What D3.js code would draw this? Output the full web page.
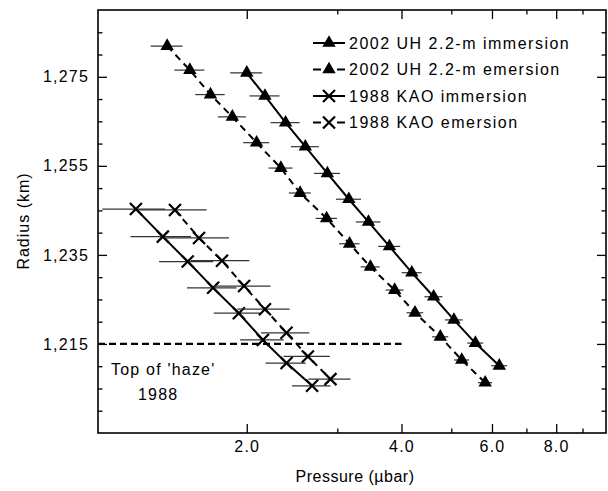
<!DOCTYPE html>
<html>
<head>
<meta charset="utf-8">
<script src="https://cdn.jsdelivr.net/npm/d3@7"></script>
<style>
  body { margin: 0; background: #fff; }
  text { font-family: "Liberation Sans", Arial, Helvetica, sans-serif; }
</style>
</head>
<body>
<svg id="chart"></svg>
<script>
// 2002 UH 2.2-m immersion
const uhImmP = [2.00, 2.17, 2.38, 2.60, 2.87, 3.16, 3.45, 3.79, 4.19, 4.62, 5.06, 5.57, 6.20];
const uhImmR = [1275.9, 1270.7, 1264.7, 1259.3, 1253.3, 1247.5, 1242.4, 1236.9, 1231.0, 1225.6, 1220.4, 1215.2, 1210.1];
const uhImmErr = [0.143, 0.146, 0.155, 0.163, 0.167, 0.177, 0.19, 0.187, 0.188, 0.186, 0.204, 0.20, 0.222];

// 2002 UH 2.2-m emersion
const uhEmeP = [1.40, 1.55, 1.70, 1.875, 2.09, 2.33, 2.54, 2.86, 3.17, 3.48, 3.88, 4.25, 4.76, 5.24, 5.82];
const uhEmeR = [1281.9, 1276.5, 1271.0, 1266.0, 1260.2, 1254.5, 1248.9, 1243.2, 1237.5, 1232.3, 1227.1, 1222.0, 1216.6, 1211.4, 1206.3];
const uhEmeErr = [0.100, 0.104, 0.112, 0.118, 0.122, 0.125, 0.125, 0.137, 0.145, 0.148, 0.156, 0.158, 0.171, 0.176, 0.183];

// 1988 KAO immersion
const kaoImmP = [1.217, 1.373, 1.535, 1.72, 1.93, 2.15, 2.39, 2.68];
const kaoImmR = [1245.3, 1239.1, 1233.5, 1227.6, 1221.9, 1215.9, 1210.7, 1205.6];
const kaoImmErr = [0.17, 0.185, 0.185, 0.19, 0.205, 0.21, 0.215, 0.23];

// 1988 KAO emersion
const kaoEmeP = [1.45, 1.615, 1.79, 1.976, 2.17, 2.39, 2.63, 2.91];
const kaoEmeR = [1245.1, 1238.8, 1233.7, 1228.0, 1222.8, 1217.5, 1212.2, 1207.1];
const kaoEmeErr = [0.221, 0.232, 0.233, 0.248, 0.253, 0.257, 0.271, 0.274];

const xMajor = [2, 4, 6, 8];
const xMinor = [3, 5, 7, 9];
const yMajor = [1215, 1235, 1255, 1275];
const yMinor = [1200, 1205, 1210, 1220, 1225, 1230, 1240, 1245, 1250, 1260, 1265, 1270, 1280, 1285];

const hazeRadius = 1215, hazeEnd = 4.0;

const legendLabels = ["2002 UH 2.2-m immersion", "2002 UH 2.2-m emersion", "1988 KAO immersion", "1988 KAO emersion"];

const width = 608, height = 491;
const svg = d3.select("#chart").attr("width", width).attr("height", height);

const x = d3.scaleLog().domain([1.027, 10]).range([98, 606]);
const y = d3.scaleLinear().domain([1195, 1290]).range([433, 10]);

const pack = (P, R, E) => P.map((p, i) => ({ p, r: R[i], e: E[i] }));
const series = [
  { name: legendLabels[0], data: pack(uhImmP, uhImmR, uhImmErr), dash: null, mark: "tri" },
  { name: legendLabels[1], data: pack(uhEmeP, uhEmeR, uhEmeErr), dash: "7,5", mark: "tri" },
  { name: legendLabels[2], data: pack(kaoImmP, kaoImmR, kaoImmErr), dash: null, mark: "x" },
  { name: legendLabels[3], data: pack(kaoEmeP, kaoEmeR, kaoEmeErr), dash: "7,5", mark: "x" }
];

// axes (ticks inward on all four sides)
const fmtX = d3.format(".1f"), fmtY = d3.format(",");
function styleAxis(g) {
  g.select(".domain").remove();
  g.selectAll("line").attr("stroke", "#000").attr("stroke-width", 1.3);
  g.selectAll("text").attr("fill", "#000").style("font-size", "16px").style("letter-spacing", "1.2px");
}
svg.append("g").attr("transform", "translate(0,433)")
  .call(d3.axisBottom(x).tickValues(xMajor).tickFormat(fmtX).tickSize(-9).tickPadding(8)).call(styleAxis);
svg.append("g").attr("transform", "translate(0,433)")
  .call(d3.axisBottom(x).tickValues(xMinor).tickFormat("").tickSize(-4.5)).call(styleAxis);
svg.append("g").attr("transform", "translate(0,10)")
  .call(d3.axisTop(x).tickValues(xMajor).tickFormat("").tickSize(-9)).call(styleAxis);
svg.append("g").attr("transform", "translate(0,10)")
  .call(d3.axisTop(x).tickValues(xMinor).tickFormat("").tickSize(-4.5)).call(styleAxis);
svg.append("g").attr("transform", "translate(98,0)")
  .call(d3.axisLeft(y).tickValues(yMajor).tickFormat(fmtY).tickSize(-9).tickPadding(9)).call(styleAxis);
svg.append("g").attr("transform", "translate(98,0)")
  .call(d3.axisLeft(y).tickValues(yMinor).tickFormat("").tickSize(-4.5)).call(styleAxis);
svg.append("g").attr("transform", "translate(606,0)")
  .call(d3.axisRight(y).tickValues(yMajor).tickFormat("").tickSize(-9)).call(styleAxis);
svg.append("g").attr("transform", "translate(606,0)")
  .call(d3.axisRight(y).tickValues(yMinor).tickFormat("").tickSize(-4.5)).call(styleAxis);

// frame
svg.append("rect").attr("x", 98).attr("y", 10).attr("width", 508).attr("height", 423)
  .attr("fill", "none").attr("stroke", "#000").attr("stroke-width", 1.6);

// axis titles
svg.append("text").attr("x", 355).attr("y", 482).attr("text-anchor", "middle")
  .style("font-size", "16px").style("letter-spacing", "0.5px").text("Pressure (\u00b5bar)");
svg.append("text").attr("transform", "translate(29,221) rotate(-90)").attr("text-anchor", "middle")
  .style("font-size", "16px").style("letter-spacing", "1px").text("Radius (km)");

// haze line
svg.append("line").attr("x1", x.range()[0]).attr("x2", x(hazeEnd))
  .attr("y1", y(hazeRadius)).attr("y2", y(hazeRadius))
  .attr("stroke", "#000").attr("stroke-width", 2.3).attr("stroke-dasharray", "7,4");
svg.append("text").attr("x", 111).attr("y", 375).style("font-size", "16px").style("letter-spacing", "1.2px").text("Top of 'haze'");
svg.append("text").attr("x", 138).attr("y", 400).style("font-size", "16px").style("letter-spacing", "1.2px").text("1988");

const tri = d3.symbol().type(d3.symbolTriangle).size(78);
function drawMark(g, kind) {
  if (kind === "tri") {
    g.append("path").attr("d", tri()).attr("fill", "#000");
  } else {
    g.append("path").attr("d", "M-6,-6L6,6M-6,6L6,-6")
      .attr("stroke", "#000").attr("stroke-width", 2.2).attr("fill", "none");
  }
}

const line = d3.line().x(d => x(d.p)).y(d => y(d.r));

series.forEach(s => {
  const g = svg.append("g");
  // error bars
  g.selectAll(".err").data(s.data).enter().append("line")
    .attr("x1", d => x(d.p - d.e)).attr("x2", d => x(d.p + d.e))
    .attr("y1", d => y(d.r)).attr("y2", d => y(d.r))
    .attr("stroke", "#333").attr("stroke-width", 1.2);
  g.append("path").datum(s.data).attr("d", line)
    .attr("fill", "none").attr("stroke", "#000").attr("stroke-width", 2)
    .attr("stroke-dasharray", s.dash);
  g.selectAll(".mk").data(s.data).enter().append("g")
    .attr("transform", d => `translate(${x(d.p)},${y(d.r)})`)
    .each(function () { drawMark(d3.select(this), s.mark); });
});

// legend
const legend = svg.append("g");
series.forEach((s, i) => {
  const ly = 43 + i * 26.5;
  legend.append("line").attr("x1", 313).attr("x2", 345).attr("y1", ly).attr("y2", ly)
    .attr("stroke", "#000").attr("stroke-width", 2)
    .attr("stroke-dasharray", s.dash ? "8,16" : null);
  const m = legend.append("g").attr("transform", `translate(329,${ly})`);
  drawMark(m, s.mark);
  legend.append("text").attr("x", 349).attr("y", ly).attr("dy", "0.36em")
    .style("font-size", "16px").style("letter-spacing", "1.5px").text(s.name);
});
</script>
</body>
</html>
